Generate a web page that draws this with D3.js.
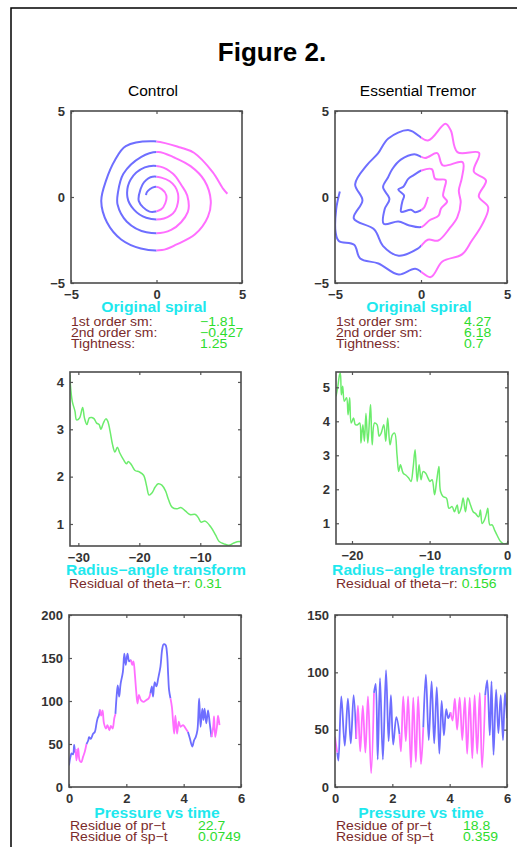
<!DOCTYPE html>
<html>
<head>
  <meta charset="utf-8">
  <title>Figure 2</title>
  <script src="https://d3js.org/d3.v7.min.js"></script>
  <style>
    body { margin: 0; background: #fff; }
    svg { display: block; }
    text { font-family: "Liberation Sans", Arial, Helvetica, sans-serif; }
  </style>
</head>
<body>
<svg id="fig"></svg>
<script>

  var width = 517;
  var height = 847;

  var blue = "#6e6eff", pink = "#ff6eff", lineGreen = "#6cec6c";
  var cyan = "#1ee8ee", brown = "#7a2b2b", green = "#2edc2e";

  // [theta, radius].
  // The spiral panels show the same samples drawn in the plane.
  var ctrlPolar = [
    [-31.37, 4.15], [-31.3, 3.94], [-31.0, 3.59], [-30.55, 3.38], [-30.3, 3.2],
    [-29.8, 3.24], [-29.3, 3.46], [-29.0, 3.24], [-28.6, 3.1], [-28.2, 3.24],
    [-27.8, 3.25], [-27.4, 3.22], [-27.0, 3.13], [-26.6, 3.1], [-26.3, 3.0],
    [-25.9, 3.13], [-25.5, 3.22], [-25.2, 3.18], [-24.8, 2.96], [-24.4, 2.68],
    [-24.0, 2.52], [-23.6, 2.62], [-23.2, 2.5], [-22.6, 2.36], [-22.1, 2.27],
    [-21.8, 2.32], [-21.3, 2.25], [-20.7, 2.13], [-20.0, 2.1], [-19.3, 2.03],
    [-18.8, 1.8], [-18.4, 1.61], [-17.9, 1.66], [-17.4, 1.78], [-16.9, 1.85],
    [-16.3, 1.82], [-15.7, 1.7], [-15.2, 1.51], [-14.6, 1.35], [-13.8, 1.32],
    [-13.2, 1.35], [-12.4, 1.27], [-11.7, 1.2], [-10.8, 1.2], [-10.3, 1.13],
    [-9.9, 1.04], [-9.2, 1.06], [-8.3, 0.94], [-7.5, 0.77], [-6.9, 0.63],
    [-6.1, 0.58], [-5.3, 0.55], [-4.5, 0.6], [-3.6, 0.63], [-3.32, 0.62]
  ];

  var etPolar = [
    [-22.06, 4.73], [-21.85, 4.98], [-21.6, 5.37], [-21.5, 5.42], [-21.37, 4.78],
    [-21.2, 5.03], [-20.99, 4.59], [-20.7, 4.69], [-20.5, 4.19], [-20.3, 4.69],
    [-20.1, 3.95], [-19.8, 4.1], [-19.57, 3.9], [-19.27, 3.9], [-19.0, 3.95],
    [-18.84, 3.36], [-18.6, 3.9], [-18.4, 3.41], [-18.2, 4.24], [-17.96, 3.36],
    [-17.7, 4.24], [-17.6, 4.49], [-17.4, 3.31], [-17.1, 3.95], [-16.77, 3.9],
    [-16.5, 3.56], [-16.24, 3.65], [-15.9, 3.9], [-15.65, 3.41], [-15.4, 4.1],
    [-15.1, 3.31], [-14.8, 3.6], [-14.5, 3.65], [-14.2, 3.01], [-13.98, 2.52],
    [-13.76, 2.72], [-13.4, 2.47], [-13.08, 2.42], [-12.7, 2.33], [-12.4, 2.23],
    [-12.13, 2.62], [-11.87, 3.16], [-11.6, 2.23], [-11.35, 2.72], [-11.1, 2.28],
    [-10.84, 2.52], [-10.5, 2.47], [-10.2, 2.33], [-9.95, 2.23], [-9.68, 2.28],
    [-9.36, 1.84], [-9.1, 2.23], [-8.8, 2.67], [-8.6, 1.94], [-8.27, 1.79],
    [-7.83, 1.74], [-7.5, 1.44], [-7.1, 1.49], [-6.8, 1.34], [-6.45, 1.54],
    [-6.24, 1.29], [-5.94, 1.44], [-5.68, 1.74], [-5.38, 1.34], [-5.08, 1.74],
    [-4.73, 1.54], [-4.39, 1.34], [-4.1, 1.29], [-3.67, 1.19], [-3.46, 1.39],
    [-3.23, 0.99], [-2.93, 1.1], [-2.67, 1.29], [-2.5, 1.44], [-2.24, 0.95],
    [-1.94, 0.95], [-1.63, 0.8], [-1.29, 0.64], [-0.86, 0.46], [-0.43, 0.39],
    [0.0, 0.41]
  ];

  // pressure vs time, [t, p], split in runs of one pen; pens alternate
  var ctrlPressure = [
    [[0, 25], [0.05, 35], [0.09, 39], [0.14, 38], [0.18, 49], [0.21, 41], [0.23, 44]],
    [[0.23, 44], [0.26, 31], [0.32, 45], [0.37, 31], [0.43, 29], [0.49, 35], [0.55, 41], [0.61, 50]],
    [[0.61, 50], [0.67, 54], [0.70, 58], [0.76, 56], [0.84, 62], [0.90, 64], [0.96, 74], [1.0, 80], [1.04, 83], [1.08, 90]],
    [[1.08, 90], [1.12, 83], [1.17, 89], [1.22, 74], [1.29, 68], [1.34, 72], [1.41, 66], [1.46, 71], [1.52, 68], [1.58, 80], [1.62, 85]],
    [[1.62, 85], [1.66, 105], [1.70, 118], [1.75, 105], [1.80, 120], [1.88, 134], [1.93, 155], [1.98, 142], [2.04, 155], [2.10, 146], [2.16, 148]],
    [[2.16, 148], [2.21, 142], [2.25, 146], [2.30, 130], [2.34, 113], [2.39, 97], [2.44, 107], [2.51, 101], [2.60, 99], [2.69, 101], [2.78, 103], [2.84, 109]],
    [[2.84, 109], [2.89, 117], [2.93, 105], [2.99, 122], [3.05, 117], [3.11, 126], [3.19, 140], [3.25, 160], [3.30, 166], [3.37, 165], [3.42, 155], [3.46, 130], [3.49, 113], [3.54, 103]],
    [[3.54, 103], [3.59, 93], [3.63, 76], [3.67, 62], [3.71, 83], [3.77, 62], [3.83, 76], [3.89, 70], [3.98, 72], [4.07, 68], [4.15, 64]],
    [[4.15, 64], [4.22, 56], [4.30, 47], [4.36, 54], [4.42, 58], [4.48, 66], [4.54, 103], [4.59, 70], [4.65, 91], [4.69, 78], [4.73, 91], [4.79, 74], [4.85, 89], [4.91, 74], [4.97, 58]],
    [[4.97, 58], [5.03, 70], [5.06, 82], [5.10, 58], [5.16, 70], [5.20, 83], [5.25, 72]]
  ];

  var etPressure = [
    [[0, 44], [0.04, 36], [0.08, 30]],
    [[0.08, 30], [0.12, 23], [0.22, 79], [0.34, 36], [0.45, 77], [0.55, 38], [0.65, 80], [0.74, 42]],
    [[0.74, 42], [0.80, 71], [0.88, 31], [0.97, 71], [1.06, 30], [1.15, 79], [1.26, 12], [1.36, 82]],
    [[1.36, 82], [1.42, 90], [1.49, 24], [1.57, 95], [1.67, 24], [1.78, 102], [1.87, 40], [1.95, 80], [2.03, 37], [2.14, 61], [2.25, 46]],
    [[2.25, 46], [2.30, 31], [2.38, 79], [2.47, 40], [2.55, 79], [2.65, 17], [2.73, 78], [2.82, 22], [2.90, 79], [3.0, 20], [3.08, 52]],
    [[3.08, 52], [3.17, 98], [3.27, 41], [3.37, 92], [3.46, 38], [3.55, 87], [3.64, 29], [3.72, 75], [3.80, 45], [3.88, 68], [3.95, 60], [4.03, 65]],
    [[4.03, 65], [4.10, 58], [4.18, 77], [4.26, 50], [4.35, 78], [4.44, 41], [4.53, 78], [4.61, 29], [4.70, 78], [4.79, 25], [4.87, 80], [4.96, 29], [5.05, 82], [5.13, 17], [5.24, 80]],
    [[5.24, 80], [5.31, 93], [5.40, 45], [5.46, 92], [5.53, 28], [5.62, 85], [5.70, 47], [5.78, 80], [5.86, 41], [5.93, 82], [6.0, 60]]
  ];
  var ctrlFirstPen = 0, etFirstPen = 1;   // 0 = blue, 1 = pink

  var spiralTicks = [-5, 0, 5];
  var ctrlThetaTicks = [-30, -20, -10], ctrlRadiusTicks = [1, 2, 3, 4];
  var etThetaTicks = [-20, -10, 0], etRadiusTicks = [1, 2, 3, 4, 5];
  var timeTicks = [0, 2, 4, 6];
  var ctrlPressTicks = [0, 50, 100, 150, 200], etPressTicks = [0, 50, 100, 150];

  var spiralLabels = ["1st order sm:", "2nd order sm:", "Tightness:"];
  var ctrlSpiralStats = ["\u22121.81", "\u22120.427", "1.25"];
  var etSpiralStats = ["4.27", "6.18", "0.7"];
  var residueLabels = ["Residue of pr\u2212t", "Residue of sp\u2212t"];
  var ctrlResidues = ["22.7", "0.0749"];
  var etResidues = ["18.8", "0.359"];
  var ctrlThetaResidual = "0.31", etThetaResidual = "0.156";

  var svg = d3.select("#fig")
    .attr("width", width)
    .attr("height", height);

  // page frame (right and bottom edges fall outside the crop)
  svg.append("rect")
    .attr("x", 11).attr("y", 8)
    .attr("width", 540).attr("height", 880)
    .attr("fill", "none")
    .attr("stroke", "#000")
    .attr("stroke-width", 1.5);

  svg.append("text")
    .attr("x", 272).attr("y", 61)
    .attr("text-anchor", "middle")
    .attr("font-size", 26).attr("font-weight", "bold")
    .text("Figure 2.");

  svg.append("text").attr("x", 153).attr("y", 96).attr("text-anchor", "middle")
    .attr("font-size", 15.5).text("Control");
  svg.append("text").attr("x", 418).attr("y", 96).attr("text-anchor", "middle")
    .attr("font-size", 15.5).text("Essential Tremor");

  // the panel texts are a little wider than tall in the original print
  var stretch = 1.12;
  function label(x, y, size) {
    return svg.append("text")
      .attr("transform", "translate(" + x + "," + y + ") scale(" + stretch + ",1)")
      .attr("font-size", size);
  }

  var clipCount = 0;
  function clipRect(x, y, w, h) {
    var id = "clip" + (clipCount++);
    svg.append("clipPath").attr("id", id).append("rect")
      .attr("x", x).attr("y", y).attr("width", w).attr("height", h);
    return "url(#" + id + ")";
  }

  function panel(box, xDomain, yDomain, xTicks, yTicks) {
    var x = d3.scaleLinear().domain(xDomain).range([box.x, box.x + box.w]);
    var y = d3.scaleLinear().domain(yDomain).range([box.y + box.h, box.y]);
    var fmt = d3.format("d");

    var plot = svg.append("g").attr("clip-path", clipRect(box.x, box.y, box.w, box.h));
    var axes = svg.append("g");

    axes.append("g")
      .attr("transform", "translate(0," + (box.y + box.h) + ")")
      .call(d3.axisBottom(x).tickValues(xTicks).tickFormat(fmt)
        .tickSizeInner(-3).tickSizeOuter(0).tickPadding(7));
    axes.append("g")
      .attr("transform", "translate(0," + box.y + ")")
      .call(d3.axisTop(x).tickValues(xTicks).tickFormat("")
        .tickSizeInner(-3).tickSizeOuter(0));
    axes.append("g")
      .attr("transform", "translate(" + box.x + ",0)")
      .call(d3.axisLeft(y).tickValues(yTicks).tickFormat(fmt)
        .tickSizeInner(-3).tickSizeOuter(0).tickPadding(6));
    axes.append("g")
      .attr("transform", "translate(" + (box.x + box.w) + ",0)")
      .call(d3.axisRight(y).tickValues(yTicks).tickFormat("")
        .tickSizeInner(-3).tickSizeOuter(0));

    axes.selectAll(".domain").remove();
    axes.selectAll(".tick line").attr("stroke", "#555").attr("stroke-width", 1.2);
    axes.selectAll("g")
      .attr("font-size", 13)
      .attr("font-family", "Liberation Sans, Arial, sans-serif");
    axes.selectAll(".tick text").attr("font-weight", "bold").attr("fill", "#333");

    axes.append("rect")
      .attr("x", box.x).attr("y", box.y)
      .attr("width", box.w).attr("height", box.h)
      .attr("fill", "none")
      .attr("stroke", "#4d4d4d")
      .attr("stroke-width", 1.6);

    return {x: x, y: y, plot: plot, box: box};
  }

  function drawSpiral(p, polar) {
    var line = d3.line()
      .x(d => p.x(d[1] * Math.cos(d[0])))
      .y(d => p.y(d[1] * Math.sin(d[0])))
      .curve(d3.curveCatmullRom);
    var mid = p.x(0);
    var halves = [[p.box.x, mid, blue], [mid, p.box.x + p.box.w, pink]];
    halves.forEach(function(h) {
      p.plot.append("path")
        .datum(polar)
        .attr("clip-path", clipRect(h[0], p.box.y, h[1] - h[0], p.box.h))
        .attr("fill", "none")
        .attr("stroke", h[2])
        .attr("stroke-width", 2)
        .attr("stroke-linejoin", "round")
        .attr("d", line);
    });
  }

  function drawRadius(p, polar) {
    var line = d3.line()
      .x(d => p.x(d[0]))
      .y(d => p.y(d[1]))
      .curve(d3.curveCatmullRom);
    p.plot.append("path")
      .datum(polar)
      .attr("fill", "none")
      .attr("stroke", lineGreen)
      .attr("stroke-width", 1.5)
      .attr("d", line);
  }

  function drawPressure(p, runs, firstPen) {
    var line = d3.line()
      .x(d => p.x(d[0]))
      .y(d => p.y(d[1]))
      .curve(d3.curveCatmullRom);
    p.plot.selectAll("path.run")
      .data(runs).enter()
      .append("path")
      .attr("class", "run")
      .attr("fill", "none")
      .attr("stroke", (d, i) => (i + firstPen) % 2 == 0 ? blue : pink)
      .attr("stroke-width", 1.8)
      .attr("stroke-linejoin", "round")
      .attr("d", line);
  }

  function caption(cx, y, txt) {
    label(cx, y, 14)
      .attr("text-anchor", "middle")
      .attr("font-weight", "bold")
      .attr("fill", cyan)
      .text(txt);
  }

  function statRows(x0, xVal, y0, labels, values) {
    labels.forEach(function(lab, i) {
      label(x0, y0 + i * 11, 12.5).attr("fill", brown).text(lab);
      label(xVal, y0 + i * 11, 12.5).attr("fill", green).text(values[i]);
    });
  }

  function residualRow(x0, y, value) {
    var t = label(x0, y, 12.5);
    t.append("tspan").attr("fill", brown).text("Residual of theta\u2212r: ");
    t.append("tspan").attr("fill", green).text(value);
  }

  // row 1: original spirals
  var sp1 = panel({x: 71, y: 111, w: 171, h: 172}, [-5, 5], [-5, 5], spiralTicks, spiralTicks);
  drawSpiral(sp1, ctrlPolar);
  var sp2 = panel({x: 335, y: 111, w: 172, h: 172}, [-5, 5], [-5, 5], spiralTicks, spiralTicks);
  drawSpiral(sp2, etPolar);

  caption(154, 312, "Original spiral");
  caption(419, 312, "Original spiral");
  statRows(71, 200, 326, spiralLabels, ctrlSpiralStats);
  statRows(336, 464, 326, spiralLabels, etSpiralStats);

  // row 2: radius-angle transform
  var ra1 = panel({x: 70, y: 372, w: 171, h: 174}, [-31.37, -3.32], [0.535, 4.21], ctrlThetaTicks, ctrlRadiusTicks);
  drawRadius(ra1, ctrlPolar);
  var ra2 = panel({x: 336, y: 372, w: 172, h: 172}, [-22.06, 0.1], [0.39, 5.45], etThetaTicks, etRadiusTicks);
  drawRadius(ra2, etPolar);

  caption(156, 575, "Radius\u2212angle transform");
  caption(422, 575, "Radius\u2212angle transform");
  residualRow(69, 588, ctrlThetaResidual);
  residualRow(336, 588, etThetaResidual);

  // row 3: pressure vs time
  var pr1 = panel({x: 69, y: 615, w: 172, h: 172}, [0, 6], [0, 200], timeTicks, ctrlPressTicks);
  drawPressure(pr1, ctrlPressure, ctrlFirstPen);
  var pr2 = panel({x: 335, y: 615, w: 172, h: 172}, [0, 6], [0, 150], timeTicks, etPressTicks);
  drawPressure(pr2, etPressure, etFirstPen);

  caption(157, 818, "Pressure vs time");
  caption(421, 818, "Pressure vs time");
  statRows(70, 198, 830, residueLabels, ctrlResidues);
  statRows(336, 463, 830, residueLabels, etResidues);

</script>
</body>
</html>
